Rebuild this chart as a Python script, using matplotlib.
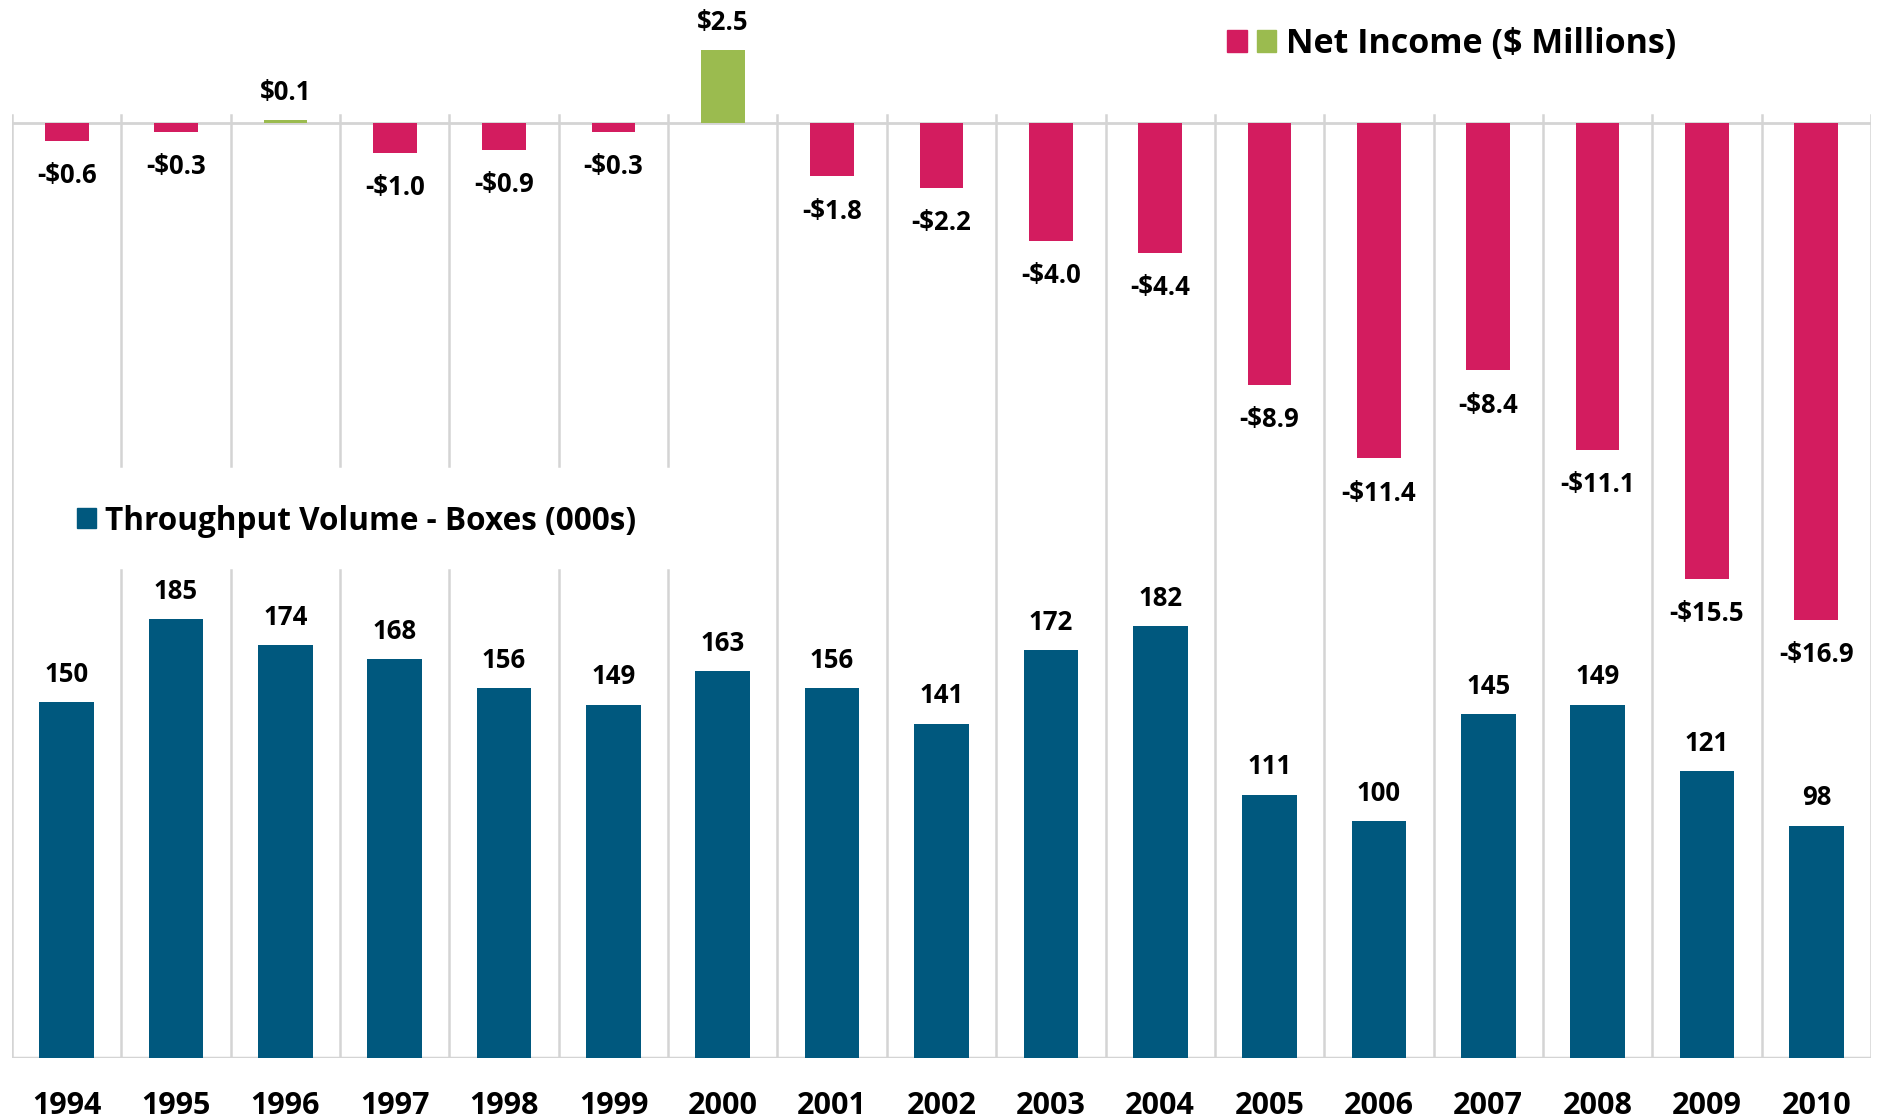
import matplotlib.pyplot as plt
from matplotlib.patches import Patch
from matplotlib.legend_handler import HandlerTuple

# chart data
years = ["1994", "1995", "1996", "1997", "1998", "1999", "2000", "2001", "2002",
         "2003", "2004", "2005", "2006", "2007", "2008", "2009", "2010"]
net_income = [-0.6, -0.3, 0.1, -1.0, -0.9, -0.3, 2.5, -1.8, -2.2,
              -4.0, -4.4, -8.9, -11.4, -8.4, -11.1, -15.5, -16.9]
throughput = [150, 185, 174, 168, 156, 149, 163, 156, 141,
              172, 182, 111, 100, 145, 149, 121, 98]

PINK = "#D31C5F"
GREEN = "#9BBB4F"
BLUE = "#00587E"
GRID = "#D4D4D4"

plt.rcParams["font.family"] = ["Open Sans", "DejaVu Sans"]
plt.rcParams["font.weight"] = "bold"

W, H = 1883, 1120
fig = plt.figure(figsize=(W / 100, H / 100), dpi=100)
rect = [12 / W, 62 / H, 1859 / W, 1058 / H]

ax_bot = fig.add_axes(rect)
ax_top = fig.add_axes(rect, sharex=ax_bot)
for ax in (ax_bot, ax_top):
    ax.patch.set_visible(False)
    for s in ax.spines.values():
        s.set_visible(False)
    ax.set_yticks([])

x = list(range(len(years)))
ax_bot.set_xlim(-0.5, len(years) - 0.5)
ax_bot.set_ylim(0, 446)
ax_top.set_ylim(-31.8, 4.2)

# vertical separators between years (broken where the volume legend sits)
for i in range(len(years) + 1):
    b = i - 0.5
    if 0 < i <= 6:
        ax_bot.axvline(b, ymin=0, ymax=0.4612, color=GRID, lw=1.8, zorder=0)
        ax_bot.axvline(b, ymin=0.5595, ymax=0.891, color=GRID, lw=1.8, zorder=0)
    else:
        ax_bot.axvline(b, ymin=0, ymax=0.891, color=GRID, lw=1.8, zorder=0)

ax_bot.axhline(0, color=GRID, lw=2.5, zorder=1)
ax_top.axhline(0, color=GRID, lw=2, zorder=1)

# throughput bars
ax_bot.bar(x, throughput, width=0.5, color=BLUE, zorder=2)
for xi, v in zip(x, throughput):
    ax_bot.annotate(f"{v}", (xi, v), xytext=(0, 20), textcoords="offset points",
                    ha="center", va="center", fontsize=18.5, fontweight="bold")

# net income bars
colors = [GREEN if v > 0 else PINK for v in net_income]
ax_top.bar(x, net_income, width=0.4, color=colors, zorder=2)
for xi, v in zip(x, net_income):
    lab = f"${v:.1f}" if v > 0 else f"-${abs(v):.1f}"
    off = 20 if v > 0 else -25
    ax_top.annotate(lab, (xi, v), xytext=(0, off), textcoords="offset points",
                    ha="center", va="center", fontsize=18.5, fontweight="bold")

ax_bot.set_xticks(x)
ax_bot.set_xticklabels(years, fontsize=22, fontweight="bold")
ax_bot.tick_params(axis="x", length=0, pad=23.5)
ax_top.tick_params(axis="x", length=0, labelbottom=False)

# legends
ni_handle = (Patch(color=PINK), Patch(color=GREEN))
fig.legend([ni_handle], ["Net Income ($ Millions)"],
           handler_map={tuple: HandlerTuple(ndivide=None, pad=0.3)},
           loc="center left", bbox_to_anchor=(1227 / W, 1 - 44 / H),
           frameon=False, borderpad=0, borderaxespad=0,
           handlelength=1.45, handleheight=0.58, handletextpad=0.28,
           prop={"size": 24.5, "weight": "bold"})

fig.legend([Patch(color=BLUE)], ["Throughput Volume - Boxes (000s)"],
           loc="center left", bbox_to_anchor=(77 / W, 1 - 521 / H),
           frameon=False, borderpad=0, borderaxespad=0,
           handlelength=0.6, handleheight=0.6, handletextpad=0.3,
           prop={"size": 22.7, "weight": "bold"})

fig.savefig("out.png", dpi=100)
